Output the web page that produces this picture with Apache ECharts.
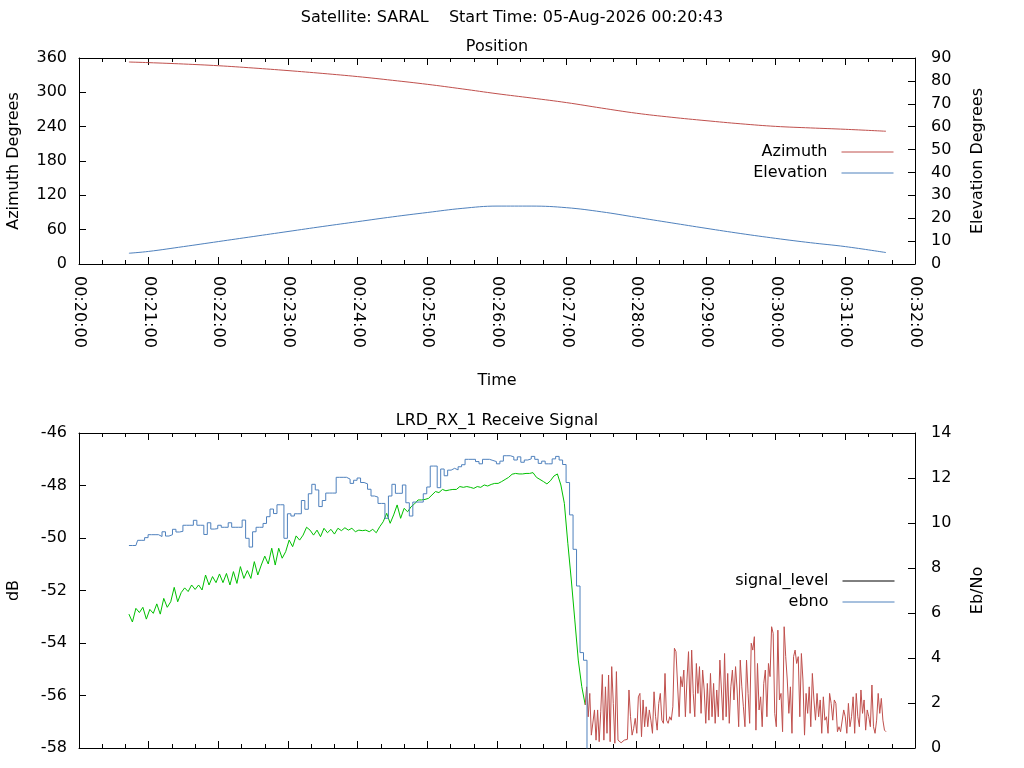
<!DOCTYPE html>
<html><head><meta charset="utf-8">
<script src="https://cdn.jsdelivr.net/npm/echarts@6/dist/echarts.min.js"></script>
<style>html,body{margin:0;padding:0;background:#fff}#c{width:1024px;height:768px}</style>
</head><body><div id="c"></div>
<script>
// ---- texts ----
const mainTitle = 'Satellite: SARAL    Start Time: 05-Aug-2026 00:20:43';
const posTitle = 'Position';
const sigTitle = 'LRD_RX_1 Receive Signal';
const baseMinute = 20; // x values are seconds after 00:20:00

// ---- position panel (seconds after 00:20:00) ----
const posSec = [43,60,90,120,150,180,210,240,270,300,330,360,390,420,450,480,510,540,570,600,630,660,695];
const azimuth = [353.0,351.9,349.5,346.5,342.5,338.0,333.0,327.5,321.0,314.0,306.0,297.6,290.0,282.0,272.5,263.5,256.5,250.5,245.0,240.5,237.8,235.4,232.0];
const elevation = [4.7,5.5,7.6,9.8,12.0,14.2,16.4,18.5,20.6,22.5,24.3,25.3,25.3,24.6,22.8,20.4,18.0,15.6,13.3,11.2,9.3,7.6,5.0];

// ---- receive signal panel ----
// signal_level while locked (green): every 3 s from 00:20:43
const lockedStartSec = 43;
const lockedStepSec = 3;
const signalLocked = [
 -52.9,-53.2,-52.68,-52.84,-52.64,-53.09,-52.72,-52.87,-52.51,-52.90,
 -52.30,-52.64,-52.43,-51.88,-52.43,-52.08,-51.90,-52.04,-51.79,-51.96,
 -51.79,-51.98,-51.41,-51.79,-51.47,-51.70,-51.37,-51.70,-51.35,-51.79,
 -51.28,-51.73,-51.09,-51.54,-51.24,-51.54,-50.90,-51.41,-51.03,-50.69,
 -50.99,-50.39,-51.03,-50.39,-50.77,-50.52,-50.08,-50.33,-49.92,-50.08,
 -49.89,-49.59,-49.70,-49.89,-49.70,-49.95,-49.63,-49.80,-49.67,-49.85,
 -49.63,-49.72,-49.61,-49.70,-49.63,-49.76,-49.70,-49.72,-49.70,-49.76,
 -49.67,-49.80,-49.57,-49.38,-49.06,-49.44,-49.12,-48.74,-49.25,-48.87,
 -49.00,-48.81,-48.70,-48.55,-48.55,-48.53,-48.49,-48.36,-48.23,-48.27,
 -48.15,-48.20,-48.17,-48.15,-48.15,-48.04,-48.07,-48.04,-48.07,-48.11,
 -48.04,-48.07,-47.98,-48.02,-47.96,-47.92,-47.92,-47.85,-47.77,-47.69,
 -47.57,-47.54,-47.56,-47.56,-47.54,-47.54,-47.51,-47.69,-47.77,-47.85,
 -47.94,-47.82,-47.64,-47.56,-47.98,-48.68,-50.2,-51.60,-53.12,-54.65,
 -55.66,-56.36
];
// signal_level after lock loss (red): every 1.35 s from 00:27:17.2
const unlockedStartSec = 437.2;
const unlockedStepSec = 1.35;
const signalUnlocked = [
 -55.67,-56.81,-55.92,-57.51,-57.44,-56.55,-57.70,-56.55,-57.76,-56.62,
 -55.20,-57.70,-55.67,-57.44,-55.22,-57.76,-54.90,-56.30,-57.82,-55.09,
 -57.70,-57.76,-57.80,-57.76,-57.70,-57.70,-57.67,-55.79,-56.81,-57.51,
 -57.25,-56.87,-57.44,-56.05,-55.92,-57.57,-56.17,-57.19,-56.43,-57.19,
 -56.55,-56.94,-57.44,-55.86,-56.81,-57.32,-56.30,-55.92,-56.94,-57.06,
 -55.16,-56.94,-57.06,-56.81,-56.94,-56.43,-54.20,-54.33,-54.27,-56.81,
 -55.28,-55.67,-55.03,-56.81,-55.41,-54.33,-56.68,-54.27,-55.92,-56.81,
 -54.78,-55.92,-54.90,-56.68,-55.03,-55.79,-57.06,-55.54,-56.94,-55.16,
 -56.81,-55.54,-57.06,-55.79,-56.81,-54.65,-55.79,-56.94,-54.40,-56.81,
 -55.16,-57.06,-55.67,-55.03,-56.17,-54.90,-55.79,-57.19,-54.65,-55.67,
 -56.43,-57.19,-54.65,-55.92,-57.06,-54.01,-54.27,-53.76,-57.32,-54.78,
 -56.55,-56.05,-57.19,-55.54,-55.03,-56.81,-54.78,-55.28,-53.38,-53.63,
 -56.68,-57.19,-53.51,-56.17,-55.92,-57.38,-53.38,-54.52,-55.41,-56.68,
 -55.67,-57.44,-54.52,-54.27,-54.78,-54.52,-56.81,-54.40,-55.41,-57.51,
 -55.92,-56.68,-55.67,-57.19,-55.16,-56.17,-56.94,-55.92,-56.81,-56.17,
 -57.44,-56.05,-56.94,-56.81,-57.44,-55.92,-56.30,-56.94,-56.17,-56.30,
 -57.38,-57.19,-57.38,-57.32,-56.55,-56.81,-57.44,-56.30,-57.19,-56.81,
 -56.05,-57.44,-55.92,-56.81,-57.19,-55.79,-56.68,-56.17,-57.32,-56.55,
 -56.81,-57.19,-55.60,-57.19,-57.44,-56.94,-55.92,-56.68,-56.11,-56.94,
 -57.32,-57.38
];
// ebno (blue, right axis): every 3 s from 00:20:43
const ebnoStartSec = 43;
const ebnoStepSec = 3;
const ebnoValues = [
 9.00,9.00,9.00,9.23,9.23,9.35,9.48,9.48,9.48,9.40,
 9.61,9.42,9.48,9.72,9.60,9.63,9.90,9.90,9.90,10.12,
 9.90,9.90,9.49,10.01,9.73,9.75,9.90,9.81,9.81,10.01,
 9.81,9.81,9.81,10.13,9.32,8.93,9.61,9.81,9.81,9.98,
 10.28,10.62,10.42,10.81,10.81,9.32,10.41,10.31,10.41,10.41,
 11.0,10.61,11.3,11.72,11.47,10.73,11.0,11.33,11.33,11.33,
 12.03,12.03,12.03,11.95,11.76,11.9,12.0,11.8,11.74,11.5,
 11.2,11.15,10.87,10.87,10.21,11.2,11.72,11.32,11.32,11.69,
 10.9,10.31,10.93,10.93,10.93,11.3,11.6,12.53,12.53,11.57,
 12.4,12.1,12.35,12.43,12.36,12.5,12.59,12.83,12.83,12.83,
 12.73,12.63,12.83,12.83,12.78,12.73,12.63,12.75,12.99,12.99,
 12.94,12.8,12.94,12.7,12.8,12.85,12.96,12.83,12.65,12.75,
 12.63,12.63,12.85,12.96,12.8,12.6,11.8,10.36,8.83,7.2,
 4.24,3.9,-0.5
];

// ---- styling ----
const FONT = 'DejaVu Sans';
const FS = 16;
const TXT = '#000';
const RED = '#c0504d', BLUE = '#4f81bd', GREEN = '#00c000';

function pad(n){ return (n < 10 ? '0' : '') + n; }
function timeLabel(v){ return '00:' + pad(baseMinute + Math.floor(v / 60)) + ':' + pad(v % 60); }

const posAz = posSec.map((t, i) => [t, azimuth[i]]);
const posEl = posSec.map((t, i) => [t, elevation[i]]);
const sigGood = signalLocked.map((v, i) => [lockedStartSec + i * lockedStepSec, v]);
const sigBad = [sigGood[sigGood.length - 1]].concat(
  signalUnlocked.map((v, i) => [+(unlockedStartSec + i * unlockedStepSec).toFixed(2), v]));
const ebnoPts = ebnoValues.map((v, i) => [ebnoStartSec + i * ebnoStepSec, v]);

const lab = {fontFamily: FONT, fontSize: FS, color: TXT};

function xAx(grid, pos, showLabels, name) {
  return {
    type: 'value', gridIndex: grid, position: pos, min: 0, max: 720, interval: 60,
    axisLine: {show: true, onZero: false, lineStyle: {color: '#000', width: 1}},
    axisTick: {show: true, inside: true, length: 7, lineStyle: {color: '#000', width: 1}},
    minorTick: {show: true, splitNumber: 3, length: 4, lineStyle: {color: '#000', width: 1}},
    splitLine: {show: false}, minorSplitLine: {show: false},
    axisLabel: showLabels ? Object.assign({show: true, rotate: -90, margin: 12, formatter: timeLabel,
      showMinLabel: true, showMaxLabel: true}, lab) : {show: false},
    name: name || '', nameLocation: 'middle', nameGap: 109, nameTextStyle: lab
  };
}
function yAx(grid, pos, min, max, interval, name, gap, margin) {
  return {
    type: 'value', gridIndex: grid, position: pos, min: min, max: max, interval: interval,
    axisLine: {show: true, onZero: false, lineStyle: {color: '#000', width: 1}},
    axisTick: {show: true, inside: true, length: 7, lineStyle: {color: '#000', width: 1}},
    splitLine: {show: false},
    axisLabel: Object.assign({show: true, margin: margin, showMinLabel: true, showMaxLabel: true}, lab),
    name: name, nameLocation: 'middle', nameRotate: 90, nameGap: gap, nameTextStyle: lab
  };
}
function legendAt(names, right, top) {
  return {data: names, orient: 'vertical', right: right, top: top, align: 'right',
    itemWidth: 52, itemHeight: 14, itemGap: 5, padding: 0, selectedMode: false,
    itemStyle: {opacity: 0}, lineStyle: {width: 1},
    textStyle: {fontFamily: FONT, fontSize: FS, color: TXT, padding: [0, 9, 0, 0]}};
}

const chart = echarts.init(document.getElementById('c'), null, {renderer: 'canvas'});
chart.setOption({
  animation: false,
  backgroundColor: '#fff',
  textStyle: {fontFamily: FONT},
  grid: [
    {left: 79, right: 109, top: 58, height: 206, outerBoundsMode: 'none', containLabel: false},
    {left: 79, right: 109, top: 433, height: 315, outerBoundsMode: 'none', containLabel: false}
  ],
  graphic: [
    {type: 'text', x: 512, y: 18, style: {text: mainTitle, fontFamily: FONT, fontSize: FS, fill: TXT, align: 'center', verticalAlign: 'middle'}},
    {type: 'text', x: 497, y: 47, style: {text: posTitle, fontFamily: FONT, fontSize: FS, fill: TXT, align: 'center', verticalAlign: 'middle'}},
    {type: 'text', x: 497, y: 421, style: {text: sigTitle, fontFamily: FONT, fontSize: FS, fill: TXT, align: 'center', verticalAlign: 'middle'}}
  ],
  legend: [
    legendAt(['Azimuth', 'Elevation'], 130, 144),
    legendAt(['signal_level', 'ebno'], 129, 573)
  ],
  xAxis: [
    xAx(0, 'bottom', true, 'Time'),
    xAx(0, 'top', false),
    xAx(1, 'bottom', false),
    xAx(1, 'top', false)
  ],
  yAxis: [
    yAx(0, 'left', 0, 360, 60, 'Azimuth Degrees', 57, 12),
    yAx(0, 'right', 0, 90, 10, 'Elevation Degrees', 55, 16),
    yAx(1, 'left', -58, -46, 2, 'dB', 57, 12),
    yAx(1, 'right', 0, 14, 2, 'Eb/No', 55, 16)
  ],
  series: [
    {name: 'Azimuth', type: 'line', xAxisIndex: 0, yAxisIndex: 0, data: posAz, symbol: 'none', showSymbol: false, smooth: 0.4,
     lineStyle: {color: RED, width: 1}, itemStyle: {color: RED}},
    {name: 'Elevation', type: 'line', xAxisIndex: 0, yAxisIndex: 1, data: posEl, symbol: 'none', showSymbol: false, smooth: 0.4,
     lineStyle: {color: BLUE, width: 1}, itemStyle: {color: BLUE}},
    {name: 'signal_level', type: 'line', xAxisIndex: 2, yAxisIndex: 2, data: [], symbol: 'none', showSymbol: false,
     lineStyle: {color: '#000', width: 1}, itemStyle: {color: '#000'}},
    {name: 'signal_locked', type: 'line', xAxisIndex: 2, yAxisIndex: 2, data: sigGood, symbol: 'none', showSymbol: false,
     lineStyle: {color: GREEN, width: 1}, itemStyle: {color: GREEN}},
    {name: 'signal_unlocked', type: 'line', xAxisIndex: 2, yAxisIndex: 2, data: sigBad, symbol: 'none', showSymbol: false,
     lineStyle: {color: RED, width: 1}, itemStyle: {color: RED}},
    {name: 'ebno', type: 'line', xAxisIndex: 2, yAxisIndex: 3, data: ebnoPts, symbol: 'none', showSymbol: false, step: 'middle',
     lineStyle: {color: BLUE, width: 1}, itemStyle: {color: BLUE}}
  ]
});
</script></body></html>
